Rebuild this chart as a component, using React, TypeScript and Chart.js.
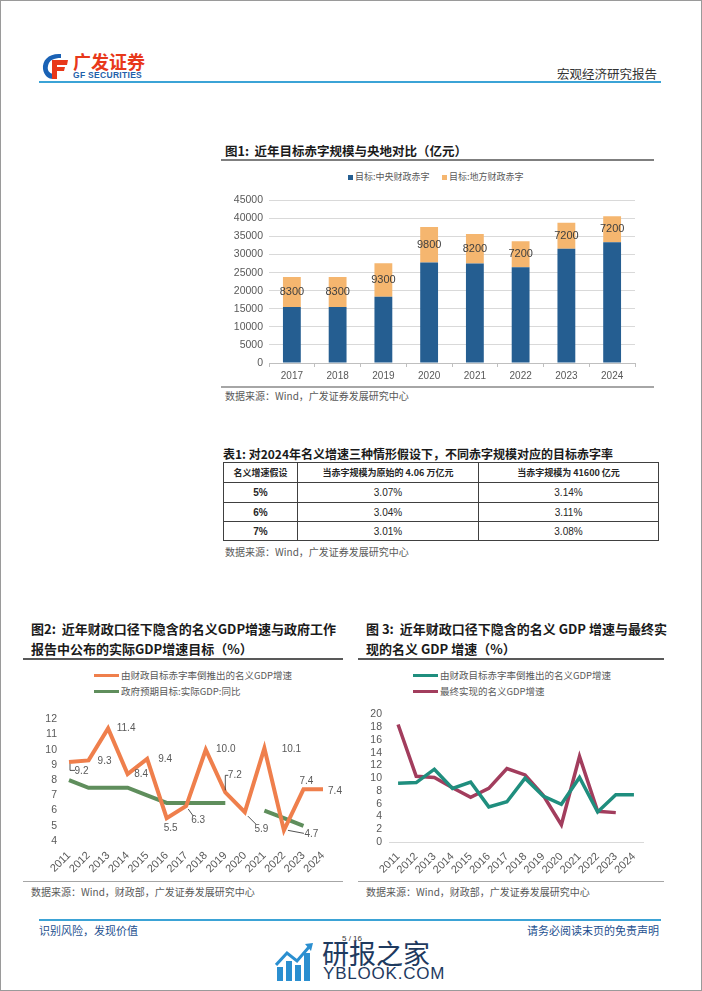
import React, { useEffect, useRef } from 'react';
import { Chart, registerables } from 'chart.js';

Chart.register(...registerables);

const CJK = '"Noto Sans CJK SC", "Noto Sans", sans-serif';
const NUM = '"Liberation Sans", Arial, sans-serif';

// ---------- Figure 1 data ----------
const barYears = ['2017', '2018', '2019', '2020', '2021', '2022', '2023', '2024'];
const centralDeficit = [15500, 15500, 18300, 27800, 27500, 26500, 31600, 33400];
const localDeficit = [8300, 8300, 9300, 9800, 8200, 7200, 7200, 7200];
const barSeriesNames = ['目标:中央财政赤字', '目标:地方财政赤字'];

// ---------- Table data ----------
const tableHeader = ['名义增速假设', '当赤字规模为原始的 4.06 万亿元', '当赤字规模为 41600 亿元'];
const growthScenarios = ['5%', '6%', '7%'];
const rateOriginal = ['3.07%', '3.04%', '3.01%'];
const rateAdjusted = ['3.14%', '3.11%', '3.08%'];

// ---------- Figure 2 / 3 data ----------
const gdpYears = ['2011', '2012', '2013', '2014', '2015', '2016', '2017', '2018', '2019', '2020', '2021', '2022', '2023', '2024'];
const impliedNominalGdp = [9.2, 9.3, 11.4, 8.4, 9.4, 5.5, 6.3, 10.0, 7.2, 5.9, 10.1, 4.7, 7.4, 7.4];
const realGdpTarget = [8.0, 7.5, 7.5, 7.5, 7.0, 6.5, 6.5, 6.5, 6.5, null, 6.0, 5.5, 5.0, null];
const actualNominalGdp = [18.4, 10.3, 10.1, 8.5, 7.0, 8.4, 11.5, 10.5, 7.3, 2.7, 13.4, 4.8, 4.6, null];
const impliedName = '由财政目标赤字率倒推出的名义GDP增速';
const targetName = '政府预期目标:实际GDP:同比';
const actualName = '最终实现的名义GDP增速';

// label placement for figure 2 (offset of text centre from point) and leader lines
const fig2LabelOffsets: [number, number][] = [
  [12.5, 9.5], [16, 1], [18, 0], [13.5, 0], [18, 0], [4, 10.5], [12, 14],
  [20, 0], [9.5, -17], [16.5, 17.5], [27, 1], [27.5, 3.5], [3, -8], [12, 2],
];
const fig2Leaders: Record<number, [number, number][]> = {
  0: [[1, 2], [1, 8.5], [6, 8.5]],
  6: [[2, 3], [7, 10]],
  8: [[0, -2], [0, -17], [3, -17]],
  9: [[3, 4], [11, 12]],
  11: [[4, 0], [20, 3]],
};

const ORANGE = '#EF7F4C';
const GREEN = '#5F8E5C';
const TEAL = '#1F8E7E';
const MAROON = '#A23D5D';
const BLUE = '#255E91';
const GOLD = '#F5B66F';
const TICK = '#595959';

const plainTick = (v: any) => String(v);

const barLabelPlugin = {
  id: 'barLabels',
  afterDatasetsDraw(chart: any) {
    const ctx = chart.ctx;
    const meta = chart.getDatasetMeta(1);
    ctx.save();
    ctx.font = `11px ${NUM}`;
    ctx.fillStyle = '#404040';
    ctx.textAlign = 'center';
    ctx.textBaseline = 'middle';
    meta.data.forEach((bar: any, i: number) => {
      const p = bar.getProps(['x', 'y', 'base'], true);
      ctx.fillText(String(localDeficit[i]), p.x, (p.y + p.base) / 2);
    });
    ctx.restore();
  },
};

const pointLabelPlugin = {
  id: 'pointLabels',
  afterDatasetsDraw(chart: any) {
    const ctx = chart.ctx;
    const meta = chart.getDatasetMeta(0);
    ctx.save();
    ctx.font = `10px ${NUM}`;
    ctx.fillStyle = TICK;
    ctx.textAlign = 'center';
    ctx.textBaseline = 'middle';
    meta.data.forEach((pt: any, i: number) => {
      const v = impliedNominalGdp[i];
      if (v == null) return;
      const [dx, dy] = fig2LabelOffsets[i];
      ctx.fillText(v.toFixed(1), pt.x + dx, pt.y + dy);
      const leader = fig2Leaders[i];
      if (leader) {
        ctx.strokeStyle = '#262626';
        ctx.lineWidth = 0.8;
        ctx.beginPath();
        leader.forEach(([lx, ly], k) => {
          if (k === 0) ctx.moveTo(pt.x + lx, pt.y + ly);
          else ctx.lineTo(pt.x + lx, pt.y + ly);
        });
        ctx.stroke();
      }
    });
    ctx.restore();
  },
};

function ChartBox(props: { left: number; top: number; width: number; height: number; config: any }) {
  const ref = useRef<HTMLCanvasElement | null>(null);
  useEffect(() => {
    const chart = new Chart(ref.current as HTMLCanvasElement, props.config);
    return () => chart.destroy();
  }, []);
  return (
    <canvas
      ref={ref}
      width={props.width}
      height={props.height}
      style={{ position: 'absolute', left: props.left, top: props.top, width: props.width, height: props.height }}
    />
  );
}

const fig1Config = {
  type: 'bar',
  data: {
    labels: barYears,
    datasets: [
      { label: barSeriesNames[0], data: centralDeficit, backgroundColor: BLUE, barPercentage: 0.39, categoryPercentage: 1 },
      { label: barSeriesNames[1], data: localDeficit, backgroundColor: GOLD, barPercentage: 0.39, categoryPercentage: 1 },
    ],
  },
  options: {
    responsive: false,
    animation: false,
    devicePixelRatio: 1,
    layout: { padding: { top: 10, right: 21, bottom: 0, left: 0 } },
    plugins: { legend: { display: false }, tooltip: { enabled: false } },
    scales: {
      x: {
        stacked: true,
        grid: { display: true, drawOnChartArea: false, drawTicks: true, tickLength: 4, color: '#bfbfbf' },
        border: { color: '#bfbfbf' },
        ticks: { color: TICK, font: { family: NUM, size: 10 }, padding: 3 },
        afterFit: (s: any) => { s.height = 22; },
      },
      y: {
        stacked: true,
        min: 0,
        max: 45000,
        ticks: { stepSize: 5000, autoSkip: false, callback: plainTick, color: TICK, font: { family: NUM, size: 10.5 }, padding: 6 },
        grid: { color: '#d9d9d9', drawTicks: false },
        border: { display: false },
        afterFit: (s: any) => { s.width = 46; },
      },
    },
  },
  plugins: [barLabelPlugin],
};

const fig2Config = {
  type: 'line',
  data: {
    labels: gdpYears,
    datasets: [
      { label: impliedName, data: impliedNominalGdp, borderColor: ORANGE, borderWidth: 4, pointRadius: 0, tension: 0, spanGaps: false, borderJoinStyle: 'miter' },
      { label: targetName, data: realGdpTarget, borderColor: GREEN, borderWidth: 4, pointRadius: 0, tension: 0, spanGaps: false },
    ],
  },
  options: {
    responsive: false,
    animation: false,
    devicePixelRatio: 1,
    layout: { padding: { top: 10, right: 23, bottom: 0, left: 0 } },
    plugins: { legend: { display: false }, tooltip: { enabled: false } },
    scales: {
      x: {
        offset: false,
        grid: { display: false, drawTicks: false },
        border: { display: false },
        ticks: { color: TICK, font: { family: NUM, size: 11 }, minRotation: 45, maxRotation: 45, padding: 8, autoSkip: false },
        afterFit: (s: any) => { s.height = 40; },
      },
      y: {
        min: 4,
        max: 12,
        ticks: { stepSize: 1, autoSkip: false, callback: plainTick, color: TICK, font: { family: NUM, size: 10.5 }, padding: 12 },
        grid: { display: false, drawTicks: false },
        border: { display: false },
        afterFit: (s: any) => { s.width = 38; },
      },
    },
  },
  plugins: [pointLabelPlugin],
};

const fig3Config = {
  type: 'line',
  data: {
    labels: gdpYears,
    datasets: [
      { label: impliedName, data: impliedNominalGdp, borderColor: TEAL, borderWidth: 3.5, pointRadius: 0, tension: 0 },
      { label: actualName, data: actualNominalGdp, borderColor: MAROON, borderWidth: 3.5, pointRadius: 0, tension: 0 },
    ],
  },
  options: {
    responsive: false,
    animation: false,
    devicePixelRatio: 1,
    layout: { padding: { top: 10, right: 21, bottom: 0, left: 0 } },
    plugins: { legend: { display: false }, tooltip: { enabled: false } },
    scales: {
      x: {
        offset: true,
        grid: { display: false, drawTicks: false },
        border: { display: true, color: '#d9d9d9' },
        ticks: { color: TICK, font: { family: NUM, size: 11 }, minRotation: 45, maxRotation: 45, padding: 8, autoSkip: false },
        afterFit: (s: any) => { s.height = 39; },
      },
      y: {
        min: 0,
        max: 20,
        ticks: { stepSize: 2, autoSkip: false, callback: plainTick, color: TICK, font: { family: NUM, size: 10.5 }, padding: 7 },
        grid: { display: false, drawTicks: false },
        border: { display: false },
        afterFit: (s: any) => { s.width = 31; },
      },
    },
  },
};

function T(props: { left?: number; right?: number; cy: number; size: number; color?: string; bold?: boolean; family?: string; children: any; lh?: number; style?: any }) {
  const lh = props.lh ?? Math.round(props.size * 1.5);
  const st: any = {
    position: 'absolute',
    top: props.cy - lh / 2,
    lineHeight: `${lh}px`,
    fontSize: props.size,
    fontFamily: props.family ?? CJK,
    fontWeight: props.bold ? 700 : 400,
    color: props.color ?? '#262626',
    whiteSpace: 'nowrap',
    ...props.style,
  };
  if (props.left != null) st.left = props.left;
  if (props.right != null) st.right = props.right;
  return <div style={st}>{props.children}</div>;
}

function HLine(props: { left: number; top: number; width: number; h?: number; color: string }) {
  return <div style={{ position: 'absolute', left: props.left, top: props.top, width: props.width, height: props.h ?? 1, background: props.color }} />;
}

function LineLegend(props: { left: number; cy: number; color: string; text: string }) {
  return (
    <>
      <div style={{ position: 'absolute', left: props.left, top: props.cy - 1.5, width: 25, height: 3, background: props.color }} />
      <T left={props.left + 27} cy={props.cy} size={9.5} color={TICK}>{props.text}</T>
    </>
  );
}

function Logo() {
  return (
    <svg style={{ position: 'absolute', left: 40, top: 51 }} width="28" height="28" viewBox="0 0 28 28">
      <path d="M20 2 C 8 1, 1 8, 2 17 C 3 24, 8 27, 12 27 L 12 22 C 8 21, 6 18, 7 14 C 8 8, 13 6, 20 6 Z" fill="#1a62b5" />
      <path d="M11 8 L 27 8 L 26 13 L 16 13 L 16 15 L 24 15 L 23 19 L 16 19 L 16 27 L 11 27 Z" fill="#e8381a" />
    </svg>
  );
}

function Watermark() {
  return (
    <svg style={{ position: 'absolute', left: 274, top: 940 }} width="40" height="42" viewBox="0 0 40 42">
      <rect x="2" y="26" width="6" height="14" fill="#2b8fd0" />
      <rect x="11" y="20" width="6" height="20" fill="#2b8fd0" />
      <rect x="20" y="24" width="6" height="16" fill="#2b8fd0" />
      <rect x="29" y="12" width="6" height="28" fill="#2b8fd0" />
      <path d="M1 24 L 12 12 L 22 20 L 34 6" stroke="#2b8fd0" strokeWidth="3" fill="none" />
      <path d="M30 3 L 38 2 L 36 10 Z" fill="#2b8fd0" />
    </svg>
  );
}

const cell: any = { border: '1px solid #404040', textAlign: 'center', padding: 0, fontFamily: NUM, fontSize: 10, color: '#262626' };

export default function App() {
  return (
    <div style={{ position: 'absolute', left: 0, top: 0, width: 702, height: 991, boxSizing: 'border-box', border: '1px solid #9a9a9a', background: '#fff', overflow: 'hidden' }}>
      {/* header */}
      <Logo />
      <T left={72} cy={60} size={18} bold color="#e8381a" lh={20}>广发证券</T>
      <T left={72} cy={74} size={8.5} bold family={NUM} color="#1f5faa" lh={10} style={{ letterSpacing: 0.3 }}>GF SECURITIES</T>
      <T right={44} cy={72} size={12.5} color="#333">宏观经济研究报告</T>
      <HLine left={38} top={80} width={622} h={2} color="#3ba3d6" />

      {/* figure 1 */}
      <T left={224} cy={149} size={12.5} bold color="#1a1a1a">图1:&nbsp;&nbsp;近年目标赤字规模与央地对比（亿元）</T>
      <HLine left={220} top={158} width={433} h={1.5} color="#7f7f7f" />
      <div style={{ position: 'absolute', left: 347, top: 173.5, width: 5, height: 5, background: BLUE }} />
      <T left={354} cy={176} size={9} color={TICK}>{barSeriesNames[0]}</T>
      <div style={{ position: 'absolute', left: 441, top: 173.5, width: 5, height: 5, background: GOLD }} />
      <T left={448} cy={176} size={9} color={TICK}>{barSeriesNames[1]}</T>
      <ChartBox left={222} top={187} width={433} height={197} config={fig1Config} />
      <HLine left={220} top={385} width={433} h={1.5} color="#a6a6a6" />
      <T left={224} cy={394} size={10} color={TICK}>数据来源：Wind，广发证券发展研究中心</T>

      {/* table */}
      <T left={222} cy={453} size={12} bold color="#1a1a1a">表1:&nbsp;对2024年名义增速三种情形假设下，不同赤字规模对应的目标赤字率</T>
      <table style={{ position: 'absolute', left: 222, top: 461, borderCollapse: 'collapse', width: 435, tableLayout: 'fixed' }}>
        <colgroup>
          <col style={{ width: 74 }} />
          <col style={{ width: 181 }} />
          <col style={{ width: 180 }} />
        </colgroup>
        <tbody>
          <tr style={{ height: 20 }}>
            {tableHeader.map((h) => (
              <td key={h} style={{ ...cell, fontFamily: CJK, fontWeight: 700, fontSize: 9 }}>{h}</td>
            ))}
          </tr>
          {growthScenarios.map((g, i) => (
            <tr key={g} style={{ height: i === 0 ? 20 : 19 }}>
              <td style={{ ...cell, fontWeight: 700 }}>{g}</td>
              <td style={cell}>{rateOriginal[i]}</td>
              <td style={cell}>{rateAdjusted[i]}</td>
            </tr>
          ))}
        </tbody>
      </table>
      <T left={224} cy={550} size={10} color={TICK}>数据来源：Wind，广发证券发展研究中心</T>

      {/* figure 2 */}
      <T left={30} cy={628} size={13} bold color="#1a1a1a">图2:&nbsp;&nbsp;近年财政口径下隐含的名义GDP增速与政府工作</T>
      <T left={30} cy={648} size={13} bold color="#1a1a1a">报告中公布的实际GDP增速目标（%）</T>
      <HLine left={22} top={657} width={320} h={1.5} color="#595959" />
      <LineLegend left={93} cy={674} color={ORANGE} text={impliedName} />
      <LineLegend left={93} cy={690} color={GREEN} text={targetName} />
      <ChartBox left={30} top={700} width={315} height={180} config={fig2Config} />
      <HLine left={22} top={880} width={320} h={1} color="#a6a6a6" />
      <T left={30} cy={890} size={10} color={TICK}>数据来源：Wind，财政部，广发证券发展研究中心</T>

      {/* figure 3 */}
      <T left={365} cy={628} size={13} bold color="#1a1a1a">图 3:&nbsp;&nbsp;近年财政口径下隐含的名义 GDP 增速与最终实</T>
      <T left={365} cy={648} size={13} bold color="#1a1a1a">现的名义 GDP 增速（%）</T>
      <HLine left={357} top={657} width={306} h={1.5} color="#595959" />
      <LineLegend left={412} cy={674} color={TEAL} text={impliedName} />
      <LineLegend left={412} cy={690} color={MAROON} text={actualName} />
      <ChartBox left={357} top={700} width={306} height={180} config={fig3Config} />
      <HLine left={357} top={880} width={306} h={1} color="#a6a6a6" />
      <T left={365} cy={890} size={10} color={TICK}>数据来源：Wind，财政部，广发证券发展研究中心</T>

      {/* footer */}
      <HLine left={38} top={918} width={622} h={2} color="#3ba3d6" />
      <T left={38} cy={929} size={11} color="#24508f">识别风险，发现价值</T>
      <T right={42} cy={929} size={11} color="#24508f">请务必阅读末页的免责声明</T>
      <T left={341} cy={938} size={8} family={NUM} color="#333">5 / 16</T>
      <Watermark />
      <T left={321} cy={952} size={27} color="#1e3a5f" lh={30}>研报之家</T>
      <T left={322} cy={973} size={17} family={NUM} color="#1e3a5f" lh={18} style={{ letterSpacing: 0.8 }}>YBLOOK.COM</T>
    </div>
  );
}
